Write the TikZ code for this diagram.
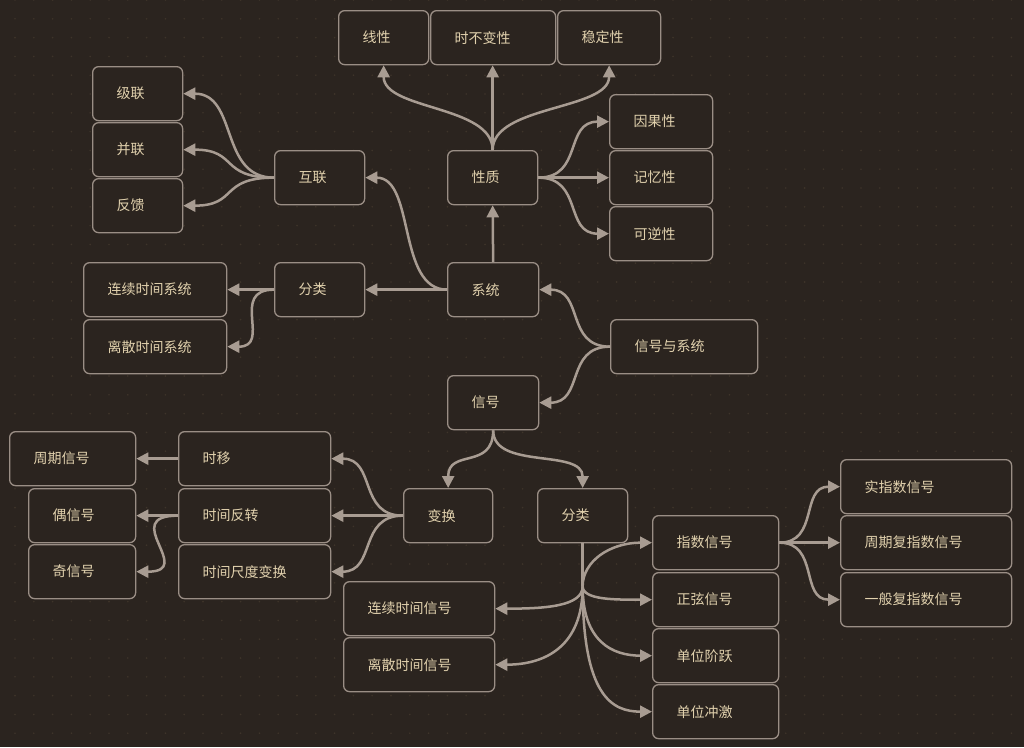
\documentclass[tikz,border=0pt]{standalone}
\usepackage{fontspec}
\setmainfont{Noto Sans CJK SC}
\usetikzlibrary{arrows.meta}
\definecolor{bg}{HTML}{2B241F}
\definecolor{dotc}{HTML}{3E342A}
\definecolor{bordc}{HTML}{9A8E85}
\definecolor{linec}{HTML}{A89C92}
\definecolor{txt}{HTML}{E2D2AE}
\newcommand\bx[5]{\node[box] (#1) at (#2,#3) {\makebox[\dimexpr #4pt-48pt\relax][l]{#5}};}
\begin{document}
\begin{tikzpicture}[x=1pt,y=-1pt,
  box/.style={draw=bordc, line width=1.3pt, fill=bg, rounded corners=6pt, anchor=north west,
    inner xsep=24pt, inner ysep=0pt, minimum height=54pt, text=txt,
    font=\fontsize{14pt}{16pt}\selectfont},
  conn/.style={draw=linec, line width=2.5pt, -{Triangle[length=12pt,width=12pt]}},
  plain/.style={draw=linec, line width=2.5pt}]
\fill[bg] (0,0) rectangle (1024,747);
\useasboundingbox (0,0) rectangle (1024,747);
\foreach \i in {0,...,54} \foreach \j in {0,...,39} \fill[dotc] (15+\i*18.8, \j*18.8) circle (0.9);
% nodes
\bx{lin}{338}{10}{90}{线性}
\bx{tinv}{430}{10}{125}{时不变性}
\bx{stab}{557}{10}{103}{稳定性}
\bx{casc}{92}{66}{90}{级联}
\bx{par}{92}{122}{90}{并联}
\bx{fb}{92}{178}{90}{反馈}
\bx{inter}{274}{150}{90}{互联}
\bx{prop}{447}{150}{90}{性质}
\bx{caus}{609}{94}{103}{因果性}
\bx{mem}{609}{150}{103}{记忆性}
\bx{inv}{609}{206}{103}{可逆性}
\bx{cts}{83}{262}{143}{连续时间系统}
\bx{dts}{83}{319}{143}{离散时间系统}
\bx{scls}{274}{262}{90}{分类}
\bx{sys}{447}{262}{91}{系统}
\bx{ss}{610}{319}{147}{信号与系统}
\bx{sig}{447}{375}{91}{信号}
\bx{per}{9}{431}{126}{周期信号}
\bx{even}{28}{488}{107}{偶信号}
\bx{odd}{28}{544}{107}{奇信号}
\bx{shift}{178}{431}{152}{时移}
\bx{rev}{178}{488}{152}{时间反转}
\bx{tscale}{178}{544}{152}{时间尺度变换}
\bx{tr}{403}{488}{89}{变换}
\bx{gcls}{537}{488}{90}{分类}
\bx{cts2}{343}{581}{151}{连续时间信号}
\bx{dts2}{343}{637}{151}{离散时间信号}
\bx{expo}{652}{515}{126}{指数信号}
\bx{sinus}{652}{572}{126}{正弦信号}
\bx{ustep}{652}{628}{126}{单位阶跃}
\bx{imp}{652}{684}{126}{单位冲激}
\bx{rexp}{840}{459}{171}{实指数信号}
\bx{pexp}{840}{515}{171}{周期复指数信号}
\bx{gexp}{840}{572}{171}{一般复指数信号}
% connectors
\draw[conn] (prop.north) .. controls +(0,-45) and +(0,45) .. (lin.south);
\draw[conn] (prop.north) -- (prop.north |- tinv.south);
\draw[conn] (prop.north) .. controls +(0,-45) and +(0,45) .. (stab.south);
\draw[conn] (prop.east) .. controls +(45,0) and +(-45,0) .. (caus.west);
\draw[conn] (prop.east) -- (mem.west);
\draw[conn] (prop.east) .. controls +(45,0) and +(-45,0) .. (inv.west);
\draw[conn] (inter.west) .. controls +(-55,0) and +(55,0) .. (casc.east);
\draw[conn] (inter.west) .. controls +(-55,0) and +(55,0) .. (par.east);
\draw[conn] (inter.west) .. controls +(-55,0) and +(55,0) .. (fb.east);
\draw[conn] (sys.north) -- (prop.south);
\draw[conn] (sys.west) .. controls +(-50,0) and +(50,0) .. (inter.east);
\draw[conn] (sys.west) -- (scls.east);
\draw[conn] (scls.west) -- (cts.east);
\draw[conn] (scls.west) .. controls +(-45,0) and +(45,0) .. (dts.east);
\draw[conn] (ss.west) .. controls +(-45,0) and +(45,0) .. (sys.east);
\draw[conn] (ss.west) .. controls +(-45,0) and +(45,0) .. (sig.east);
\draw[conn] (sig.south) .. controls +(0,40) and +(0,-40) .. (tr.north);
\draw[conn] (sig.south) .. controls +(0,40) and +(0,-40) .. (gcls.north);
\draw[conn] (tr.west) .. controls +(-45,0) and +(45,0) .. (shift.east);
\draw[conn] (tr.west) -- (rev.east);
\draw[conn] (tr.west) .. controls +(-45,0) and +(45,0) .. (tscale.east);
\draw[conn] (shift.west) -- (per.east);
\draw[conn] (rev.west) -- (even.east);
\draw[conn] (rev.west) .. controls +(-60,0) and +(60,0) .. (odd.east);
\draw[plain] (gcls.south) -- ++(0,43) coordinate (gp);
\draw[conn] (gp) .. controls +(0,-25) and +(-42,0) .. (expo.west);
\draw[conn] (gp) .. controls +(0,14) and +(-35,0) .. (sinus.west);
\draw[conn] (gp) .. controls +(0,55) and +(-40,0) .. (ustep.west);
\draw[conn] (gp) .. controls +(0,110) and +(-40,0) .. (imp.west);
\draw[conn] (gp) .. controls +(0,20) and +(50,0) .. (cts2.east);
\draw[conn] (gp) .. controls +(0,60) and +(50,0) .. (dts2.east);
\draw[conn] (expo.east) .. controls +(40,0) and +(-40,0) .. (rexp.west);
\draw[conn] (expo.east) -- (pexp.west);
\draw[conn] (expo.east) .. controls +(40,0) and +(-40,0) .. (gexp.west);
\end{tikzpicture}
\end{document}
